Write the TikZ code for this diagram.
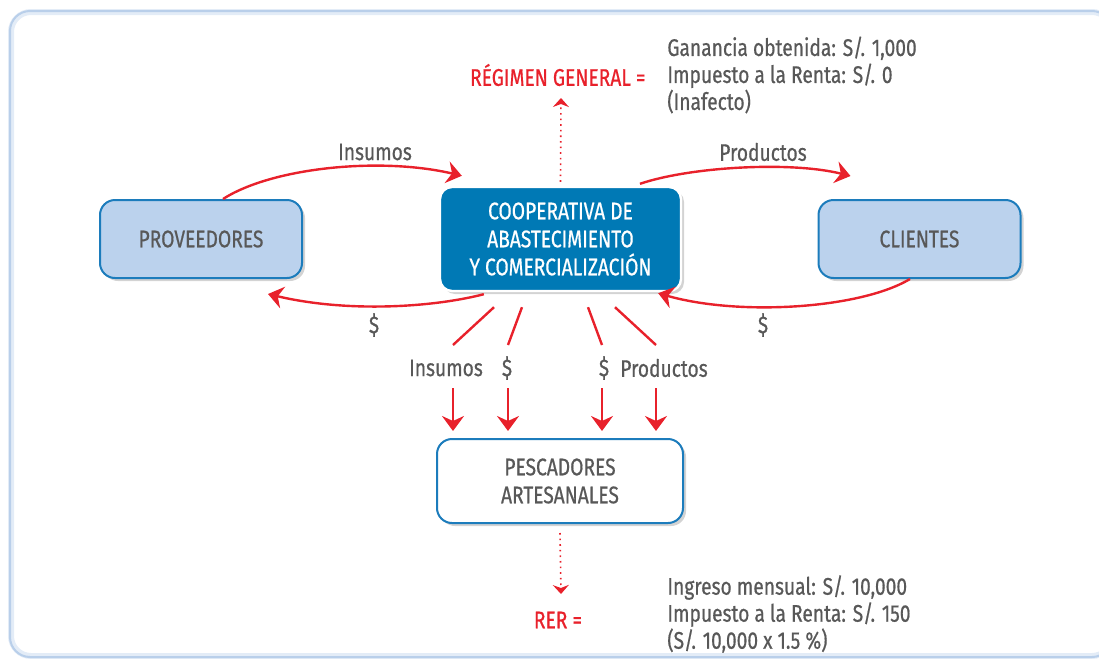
\documentclass[tikz,border=0pt]{standalone}
\usepackage{fontspec}
\setmainfont{Fira Sans}[FakeStretch=0.8, FakeBold=0.6]
\usetikzlibrary{arrows.meta,shadows,positioning}
\definecolor{txtgray}{HTML}{585858}
\definecolor{flowred}{HTML}{E8212B}
\definecolor{coopblue}{HTML}{0079B5}
\definecolor{boxblue}{HTML}{BBD2ED}
\definecolor{edgeblue}{HTML}{1C7CBC}
\definecolor{panelblue}{HTML}{B9CFEA}
\tikzset{
  party/.style={draw=edgeblue, line width=1pt, fill=boxblue, rounded corners=7.5pt,
    minimum width=101pt, minimum height=39pt, text=txtgray, align=center,
    font=\fontsize{12}{14}\selectfont,
    drop shadow={shadow xshift=1.5pt, shadow yshift=-1.5pt, opacity=0.35}},
  coopbox/.style={party, draw=white, line width=1.2pt, fill=coopblue, text=white,
    rounded corners=6pt, minimum width=120.5pt, minimum height=52pt},
  fisherbox/.style={party, fill=white, minimum width=123pt, minimum height=42pt},
  flow/.style={draw=flowred, line width=1.2pt, -{Stealth[length=7.5pt,width=11pt,inset=2.5pt]}},
  flowline/.style={draw=flowred, line width=1.2pt},
  taxlink/.style={draw=flowred, line width=0.8pt, dotted, -{Stealth[length=4.5pt,width=8pt,inset=1.5pt]}},
  tag/.style={text=txtgray, font=\fontsize{12}{13.5}\selectfont, inner sep=1pt},
  regime/.style={text=flowred, font=\fontsize{12}{13.5}\selectfont, inner sep=1pt},
  taxinfo/.style={tag, align=left, anchor=west},
}
\begin{document}
\begin{tikzpicture}[x=0.5pt, y=-0.5pt]
\useasboundingbox (0,0) rectangle (1099,659);
\draw[panelblue!40, line width=3pt, rounded corners=10pt] (11,12) rectangle (1112,656);
\draw[panelblue, line width=1pt, rounded corners=10pt] (10,11) rectangle (1112,657);

\node[party] (prov) at (201,239) {PROVEEDORES};
\node[party] (cli) at (919.5,239) {CLIENTES};
\node[coopbox] (coop) at (560.5,239) {COOPERATIVA DE\\ABASTECIMIENTO\\Y COMERCIALIZACIÓN};
\node[fisherbox] (pesc) at (560,481) {PESCADORES\\ARTESANALES};

\node[tag] (insA) at (375,152) {Insumos};
\node[tag] (prodA) at (763,152) {Productos};
\node[tag] (payA) at (374,325) {\$};
\node[tag] (payB) at (763,325) {\$};
\node[tag] (insB) at (446,368) {Insumos};
\node[tag] (payC) at (507,368) {\$};
\node[tag] (payD) at (604,368) {\$};
\node[tag] (prodB) at (664,368) {Productos};

\node[regime, anchor=east] (rg) at (648,75) {RÉGIMEN GENERAL =};
\node[taxinfo] (rginfo) at (665,75) {Ganancia obtenida: S/. 1,000\\Impuesto a la Renta: S/. 0\\(Inafecto)};
\node[regime] (rer) at (558,620) {RER =};
\node[taxinfo] (rerinfo) at (665,614) {Ingreso mensual: S/. 10,000\\Impuesto a la Renta: S/. 150\\(S/. 10,000 x 1.5 \%)};
\coordinate (rgtip) at (561,98);
\coordinate (rertip) at (561,594);

\draw[flow] ([xshift=11pt]prov.north) .. controls +(50,-32) and +(-80,-19) .. ([xshift=11.5pt,yshift=5pt]coop.north west);
\draw[flow] ([xshift=22.5pt,yshift=-1pt]coop.south west) .. controls +(-50,13) and +(80,19) .. ([xshift=-17.5pt,yshift=-7.5pt]prov.south east);
\draw[flow] ([xshift=39.75pt,yshift=1pt]coop.north) .. controls +(50,-17) and +(-60,-15) .. ([xshift=16.5pt,yshift=11.5pt]cli.north west);
\draw[flow] ([xshift=-4.75pt]cli.south) .. controls +(-50,30) and +(80,23) .. ([xshift=-12pt,yshift=-0.5pt]coop.south east);

\draw[flowline] ([xshift=-33.25pt,yshift=-7.5pt]coop.south) -- ([xshift=3.5pt,yshift=11.5pt]insB.center);
\draw[flowline] ([xshift=-19.25pt,yshift=-7.5pt]coop.south) -- ([xshift=0.5pt,yshift=11.5pt]payC.center);
\draw[flowline] ([xshift=13.75pt,yshift=-7.5pt]coop.south) -- ([xshift=-1pt,yshift=11.5pt]payD.center);
\draw[flowline] ([xshift=27.25pt,yshift=-7.5pt]coop.south) -- ([xshift=-4pt,yshift=11.5pt]prodB.center);
\draw[flow] ([xshift=3.5pt,yshift=-10pt]insB.center) -- ([xshift=-53.5pt,yshift=3.5pt]pesc.north);
\draw[flow] ([xshift=0.5pt,yshift=-10pt]payC.center) -- ([xshift=-26pt,yshift=3.5pt]pesc.north);
\draw[flow] ([xshift=-1pt,yshift=-10pt]payD.center) -- ([xshift=21pt,yshift=3.5pt]pesc.north);
\draw[flow] ([xshift=-4pt,yshift=-10pt]prodB.center) -- ([xshift=48pt,yshift=3.5pt]pesc.north);

\draw[taxlink] ([yshift=2pt]coop.north) -- (rgtip);
\draw[taxlink] ([yshift=-4.5pt]pesc.south) -- (rertip);
\end{tikzpicture}
\end{document}
